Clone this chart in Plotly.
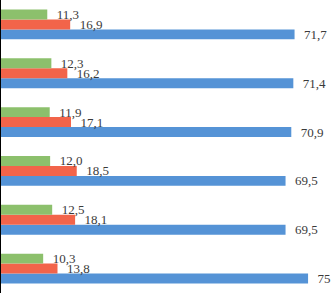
import plotly.graph_objects as go

categories = ["G1", "G2", "G3", "G4", "G5", "G6"]  # bottom to top
blue_vals = [75.0, 69.5, 69.5, 70.9, 71.4, 71.7]
red_vals = [13.8, 18.1, 18.5, 17.1, 16.2, 16.9]
green_vals = [10.3, 12.5, 12.0, 11.9, 12.3, 11.3]
blue_labels = ["75", "69,5", "69,5", "70,9", "71,4", "71,7"]
red_labels = ["13,8", "18,1", "18,5", "17,1", "16,2", "16,9"]
green_labels = ["10,3", "12,5", "12,0", "11,9", "12,3", "11,3"]

PAD = "\u00a0\u00a0"

def bar(vals, labels, color):
    return go.Bar(
        y=categories, x=vals, orientation="h",
        marker=dict(color=color, line=dict(width=0)),
        text=[PAD + t for t in labels],
        textposition="outside",
        constraintext="none",
        cliponaxis=False,
        textfont=dict(family="Liberation Serif", size=13, color="#3a3a3a"),
        hoverinfo="skip",
    )

fig = go.Figure([
    bar(blue_vals, blue_labels, "#5593D6"),
    bar(red_vals, red_labels, "#F2644A"),
    bar(green_vals, green_labels, "#8CC06C"),
])

fig.update_layout(
    width=331, height=293,
    margin=dict(l=1, r=0, t=0, b=0, pad=0),
    barmode="group", bargap=0.39, bargroupgap=0,
    showlegend=False,
    plot_bgcolor="white", paper_bgcolor="white",
    xaxis=dict(visible=False, range=[0, 80.6]),
    yaxis=dict(showticklabels=False, showgrid=False, zeroline=False, ticks="",
               showline=True, linecolor="black", linewidth=1,
               range=[-0.5, 5.5]),
)

fig.write_html(
    "out.html",
    config={"displayModeBar": False, "staticPlot": True},
    post_script="document.body.style.margin='0';document.body.style.overflow='hidden';",
)
